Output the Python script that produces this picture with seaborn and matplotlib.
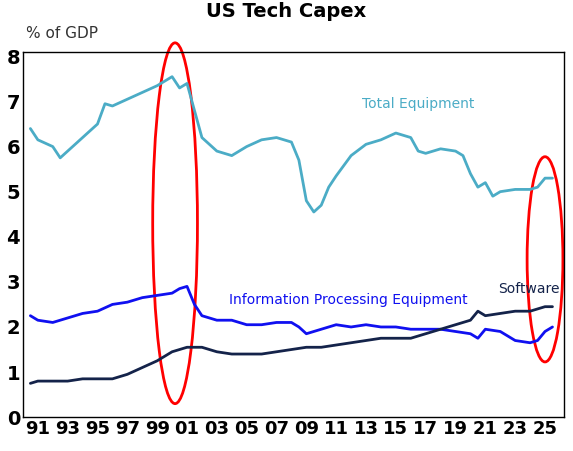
import numpy as np
import matplotlib
matplotlib.use('Agg')
import matplotlib.pyplot as plt
import seaborn as sns
from matplotlib.patches import Ellipse

# Values (share of GDP, %)
total_years = [1990.5, 1991, 1992, 1992.5, 1993, 1994, 1995, 1995.5, 1996, 1997, 1998, 1999, 2000, 2000.5,
               2001, 2001.5, 2002, 2003, 2004, 2005, 2006, 2007, 2008, 2008.5, 2009, 2009.5, 2010, 2010.5,
               2011, 2012, 2013, 2014, 2015, 2016, 2016.5, 2017, 2018, 2019, 2019.5, 2020, 2020.5, 2021,
               2021.5, 2022, 2023, 2024, 2024.5, 2025, 2025.5]
total_equipment = [6.4, 6.15, 6.0, 5.75, 5.9, 6.2, 6.5, 6.95, 6.9, 7.05, 7.2, 7.35, 7.55, 7.3,
                   7.4, 6.8, 6.2, 5.9, 5.8, 6.0, 6.15, 6.2, 6.1, 5.7, 4.8, 4.55, 4.7, 5.1,
                   5.35, 5.8, 6.05, 6.15, 6.3, 6.2, 5.9, 5.85, 5.95, 5.9, 5.8, 5.4, 5.1, 5.2,
                   4.9, 5.0, 5.05, 5.05, 5.1, 5.3, 5.3]

ipe_years = [1990.5, 1991, 1992, 1993, 1994, 1995, 1996, 1997, 1998, 1999, 2000, 2000.5, 2001, 2001.5,
             2002, 2003, 2004, 2005, 2006, 2007, 2008, 2008.5, 2009, 2010, 2011, 2012, 2013, 2014, 2015,
             2016, 2017, 2018, 2019, 2020, 2020.5, 2021, 2022, 2022.5, 2023, 2024, 2024.5, 2025, 2025.5]
info_processing = [2.25, 2.15, 2.1, 2.2, 2.3, 2.35, 2.5, 2.55, 2.65, 2.7, 2.75, 2.85, 2.9, 2.5,
                   2.25, 2.15, 2.15, 2.05, 2.05, 2.1, 2.1, 2.0, 1.85, 1.95, 2.05, 2.0, 2.05, 2.0, 2.0,
                   1.95, 1.95, 1.95, 1.9, 1.85, 1.75, 1.95, 1.9, 1.8, 1.7, 1.65, 1.7, 1.9, 2.0]

sw_years = [1990.5, 1991, 1993, 1994, 1996, 1997, 1998, 1999, 2000, 2001, 2002, 2003, 2004, 2005, 2006,
            2007, 2008, 2009, 2010, 2011, 2012, 2013, 2014, 2015, 2016, 2017, 2018, 2019, 2020, 2020.5,
            2021, 2022, 2023, 2024, 2025, 2025.5]
software = [0.75, 0.8, 0.8, 0.85, 0.85, 0.95, 1.1, 1.25, 1.45, 1.55, 1.55, 1.45, 1.4, 1.4, 1.4,
            1.45, 1.5, 1.55, 1.55, 1.6, 1.65, 1.7, 1.75, 1.75, 1.75, 1.85, 1.95, 2.05, 2.15, 2.35,
            2.25, 2.3, 2.35, 2.35, 2.45, 2.45]

tick_years = list(range(1991, 2026, 2))
tick_labels = [f"{y % 100:02d}" for y in tick_years]

sns.set_style('white')
fig, ax = plt.subplots(figsize=(5.73, 4.51), dpi=100)
fig.subplots_adjust(left=0.04, right=0.985, top=0.885, bottom=0.075)

sns.lineplot(x=total_years, y=total_equipment, ax=ax, color='#4bacc6', lw=2)
sns.lineplot(x=ipe_years, y=info_processing, ax=ax, color='#1010f0', lw=2)
sns.lineplot(x=sw_years, y=software, ax=ax, color='#14234a', lw=2)

ax.add_patch(Ellipse((2000.2, 4.3), 3.0, 8.0, fill=False, ec='red', lw=2, clip_on=False))
ax.add_patch(Ellipse((2025.0, 3.5), 2.4, 4.55, fill=False, ec='red', lw=2, clip_on=False))

ax.text(2016.5, 6.85, 'Total Equipment', color='#4bacc6', fontsize=10, ha='center')
ax.text(2011.8, 2.5, 'Information Processing Equipment', color='#1010f0', fontsize=10, ha='center')
ax.text(2026.0, 2.75, 'Software', color='#14234a', fontsize=10, ha='right')

ax.set_xlim(1990, 2026.3)
ax.set_ylim(0, 8.1)
ax.set_xticks(tick_years)
ax.set_xticklabels(tick_labels, fontsize=13, fontweight='bold', color='black')
ax.set_yticks(range(0, 9))
ax.set_yticklabels([str(v) for v in range(0, 9)], fontsize=14, fontweight='bold', color='black')
ax.tick_params(axis='both', length=0, pad=2)
for s in ax.spines.values():
    s.set_color('black')
    s.set_linewidth(1)
fig.suptitle('US Tech Capex', fontsize=14, fontweight='bold', color='black', y=0.995)
fig.text(0.045, 0.915, '% of GDP', fontsize=11, color='#333333')
fig.savefig('out.png', dpi=100)
